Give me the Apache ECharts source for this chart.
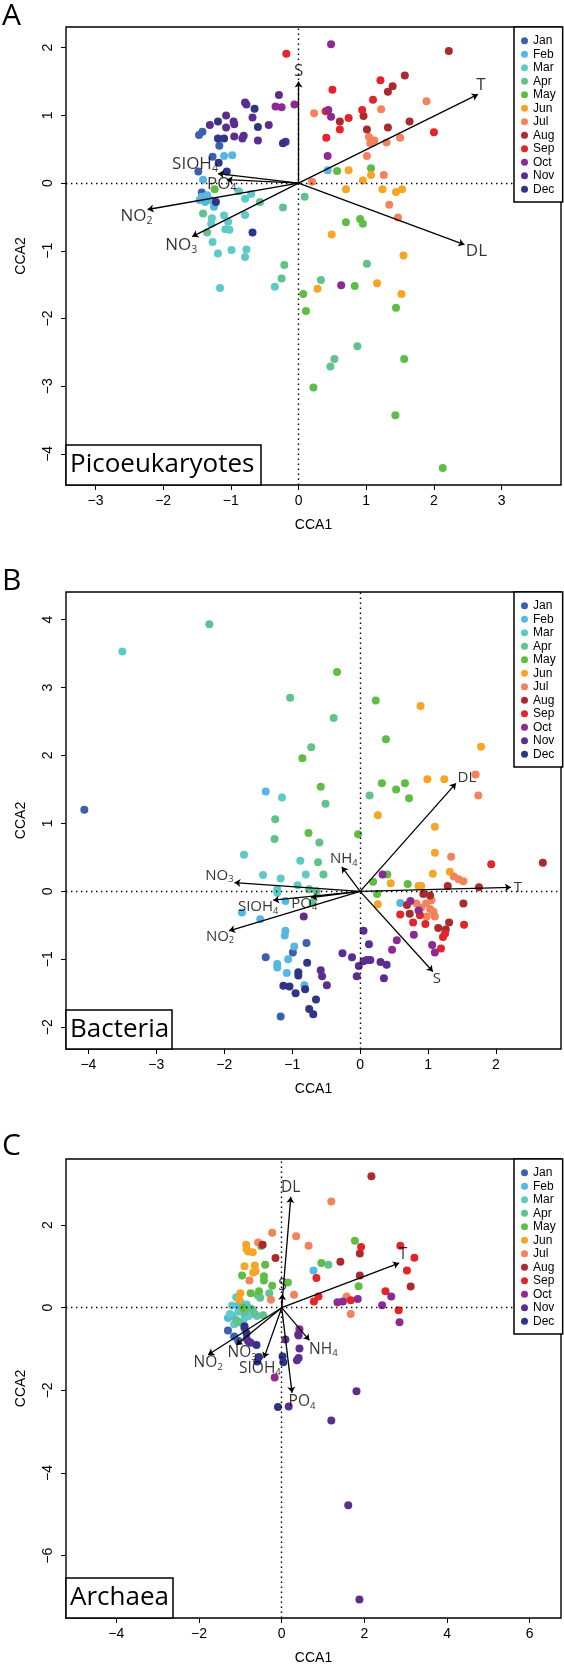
<!DOCTYPE html>
<html><head><meta charset="utf-8">
<script src="https://cdn.jsdelivr.net/npm/echarts@6/dist/echarts.min.js"></script>
<style>html,body{margin:0;padding:0;background:#fff}#c{width:564px;height:1667px}</style>
</head><body><div id="c"></div>
<script>
const months = ['Jan','Feb','Mar','Apr','May','Jun','Jul','Aug','Sep','Oct','Nov','Dec'];
const monthColors = ['#3c5fae','#57b6e3','#5dcac6','#62c28e','#5fbd45','#f6a626','#f3835c','#ab2a2e','#e2252b','#8c2a93','#5b2e8e','#2e3586'];

// Panel A – Picoeukaryotes: [CCA1, CCA2, month]
const picoPoints = [
 [-1.42,0.76,'Jan'],[-1.47,0.71,'Jan'],[-1.27,0.39,'Jan'],[-1.48,0.17,'Jan'],[-1.43,-0.14,'Jan'],[-1.17,0.55,'Jan'],
 [-1.10,0.40,'Feb'],[-0.98,0.41,'Feb'],[-1.41,0.05,'Feb'],[-1.43,-0.20,'Feb'],[-1.35,-0.18,'Feb'],[-1.30,-0.25,'Feb'],[-1.46,-0.25,'Feb'],[-1.25,-0.35,'Feb'],[-1.38,-0.28,'Feb'],[0.43,0.19,'Feb'],
 [-0.88,-0.12,'Mar'],[-0.79,-0.23,'Mar'],[-0.70,-0.16,'Mar'],[-1.28,-0.52,'Mar'],[-1.29,-0.60,'Mar'],[-1.10,-0.48,'Mar'],[-1.04,-0.57,'Mar'],[-0.79,-0.47,'Mar'],[-1.08,-0.68,'Mar'],[-1.02,-0.69,'Mar'],[-1.27,-0.87,'Mar'],[-1.19,-1.04,'Mar'],[-0.99,-0.99,'Mar'],[-0.77,-0.98,'Mar'],[-0.79,-1.09,'Mar'],[-1.16,-1.55,'Mar'],[-0.35,-1.53,'Mar'],
 [-1.41,-0.45,'Apr'],[-1.35,-0.73,'Apr'],[-0.57,-0.28,'Apr'],[-0.23,-0.36,'Apr'],[0.09,-0.20,'Apr'],[-0.21,-1.21,'Apr'],[-0.25,-1.41,'Apr'],[0.33,-1.43,'Apr'],[0.87,-2.41,'Apr'],[0.53,-2.60,'Apr'],[0.47,-2.71,'Apr'],[1.01,-1.19,'Apr'],
 [-1.24,-0.09,'May'],[0.57,0.18,'May'],[1.07,0.22,'May'],[0.70,-0.58,'May'],[0.91,-0.53,'May'],[0.95,-0.60,'May'],[0.83,-1.52,'May'],[0.07,-1.64,'May'],[0.11,-1.89,'May'],[1.44,-1.84,'May'],[1.56,-2.60,'May'],[0.22,-3.02,'May'],[1.43,-3.43,'May'],[2.13,-4.21,'May'],
 [0.74,0.19,'Jun'],[1.07,0.12,'Jun'],[0.95,0.04,'Jun'],[0.70,-0.09,'Jun'],[1.24,-0.09,'Jun'],[1.44,-0.13,'Jun'],[1.53,-0.09,'Jun'],[0.49,-0.76,'Jun'],[1.55,-1.07,'Jun'],[0.28,-1.56,'Jun'],[1.16,-1.48,'Jun'],[1.52,-1.64,'Jun'],
 [1.89,1.21,'Jul'],[1.22,1.09,'Jul'],[0.23,1.03,'Jul'],[1.04,0.68,'Jul'],[1.12,0.63,'Jul'],[1.06,0.59,'Jul'],[1.30,0.60,'Jul'],[1.50,0.67,'Jul'],[1.01,0.40,'Jul'],[1.26,0.12,'Jul'],[0.20,0.02,'Jul'],[1.34,-0.32,'Jul'],[1.47,-0.51,'Jul'],
 [2.22,1.95,'Aug'],[1.57,1.59,'Aug'],[1.39,1.43,'Aug'],[1.32,1.35,'Aug'],[0.61,0.91,'Aug'],[0.96,0.99,'Aug'],[1.32,0.82,'Aug'],[1.64,0.91,'Aug'],[1.01,0.79,'Aug'],
 [-0.18,1.91,'Sep'],[1.21,1.52,'Sep'],[0.50,1.38,'Sep'],[1.10,1.23,'Sep'],[0.40,1.06,'Sep'],[0.94,1.08,'Sep'],[0.74,0.96,'Sep'],[0.61,0.79,'Sep'],[2.00,0.75,'Sep'],[0.41,0.67,'Sep'],
 [0.48,2.05,'Oct'],[0.44,1.08,'Oct'],[0.48,0.98,'Oct'],[0.43,0.40,'Oct'],[0.63,-1.51,'Oct'],[-0.34,1.13,'Oct'],[-0.25,1.12,'Oct'],[-0.06,1.16,'Oct'],
 [-0.29,1.30,'Nov'],[-0.79,1.19,'Nov'],[-0.77,1.16,'Nov'],[-0.68,0.97,'Nov'],[-1.07,1.00,'Nov'],[-0.96,0.91,'Nov'],[-0.95,0.87,'Nov'],[-1.31,0.86,'Nov'],[-1.07,0.82,'Nov'],[-0.44,0.86,'Nov'],[-0.95,0.69,'Nov'],[-0.81,0.70,'Nov'],[-0.83,0.66,'Nov'],[-0.60,0.63,'Nov'],[-0.19,0.61,'Nov'],
 [-1.19,0.91,'Dec'],[-0.65,1.10,'Dec'],[-0.60,0.83,'Dec'],[-1.19,0.66,'Dec'],[-1.10,0.66,'Dec'],[-0.23,0.59,'Dec'],[-1.18,0.30,'Dec'],[-1.06,0.17,'Dec'],[-1.22,-0.28,'Dec'],[-0.68,-0.73,'Dec']
];
const picoArrows = [['S',0,1.50],['T',2.65,1.31],['DL',2.45,-0.91],['SIOH4',-1.19,0.14],['PO4',-1.06,0.05],['NO2',-2.23,-0.39],['NO3',-1.57,-0.79]];
const picoXTicks = [-3,-2,-1,0,1,2,3];
const picoYTicks = [-4,-3,-2,-1,0,1,2];

// Panel B – Bacteria
const bactPoints = [
 [-4.06,1.20,'Jan'],[-0.79,-0.76,'Jan'],[-1.39,-0.97,'Jan'],[-1.17,-1.84,'Jan'],[-0.99,-0.90,'Jan'],
 [-1.39,1.47,'Feb'],[-1.10,-0.14,'Feb'],[-1.74,-0.31,'Feb'],[-1.47,-0.41,'Feb'],[0.59,-0.17,'Feb'],[-1.10,-0.58,'Feb'],[-1.11,-0.65,'Feb'],[-0.97,-0.81,'Feb'],[-1.06,-1.00,'Feb'],[-1.22,-1.07,'Feb'],[-1.22,-1.12,'Feb'],[-1.08,-1.20,'Feb'],[-0.82,-1.38,'Feb'],
 [-3.50,3.53,'Mar'],[-1.15,1.38,'Mar'],[-1.71,0.54,'Mar'],[-1.43,0.24,'Mar'],[-1.17,0.19,'Mar'],[-0.88,0.45,'Mar'],[-0.80,0.25,'Mar'],[-0.92,0.09,'Mar'],[-1.22,0.03,'Mar'],[-1.22,-0.02,'Mar'],
 [-2.22,3.93,'Apr'],[-1.03,2.85,'Apr'],[-0.39,2.55,'Apr'],[-0.72,2.12,'Apr'],[0.14,1.41,'Apr'],[-0.51,1.29,'Apr'],[-1.25,1.06,'Apr'],[-1.26,0.77,'Apr'],[-0.60,0.72,'Apr'],[-0.62,0.43,'Apr'],[-0.54,0.25,'Apr'],[-0.75,0.03,'Apr'],[-0.64,0.00,'Apr'],[-0.70,-0.16,'Apr'],
 [-0.34,3.23,'May'],[0.23,2.81,'May'],[0.38,2.24,'May'],[-0.85,1.96,'May'],[0.32,1.59,'May'],[0.66,1.59,'May'],[0.53,1.50,'May'],[0.72,1.37,'May'],[-0.58,1.54,'May'],[-0.76,0.86,'May'],[-0.03,0.84,'May'],[0.40,0.25,'May'],[0.19,0.14,'May'],[0.70,0.11,'May'],[0.25,-0.04,'May'],
 [0.89,2.73,'Jun'],[1.78,2.13,'Jun'],[0.99,1.65,'Jun'],[1.24,1.65,'Jun'],[0.26,1.12,'Jun'],[1.10,0.95,'Jun'],[1.10,0.57,'Jun'],[1.07,0.26,'Jun'],[1.32,0.29,'Jun'],[0.45,0.12,'Jun'],[0.86,0.08,'Jun'],[0.90,0.08,'Jun'],[0.26,-0.19,'Jun'],
 [1.70,1.72,'Jul'],[1.74,1.41,'Jul'],[1.34,0.51,'Jul'],[1.38,0.22,'Jul'],[1.45,0.18,'Jul'],[1.52,0.15,'Jul'],[0.83,-0.18,'Jul'],[0.97,-0.18,'Jul'],[1.05,-0.13,'Jul'],[1.03,-0.26,'Jul'],[1.10,-0.37,'Jul'],[0.98,-0.37,'Jul'],[1.08,-0.30,'Jul'],[0.90,-0.24,'Jul'],
 [2.69,0.42,'Aug'],[1.29,0.08,'Aug'],[1.75,0.06,'Aug'],[0.93,-0.04,'Aug'],[1.03,-0.06,'Aug'],[0.69,-0.20,'Aug'],[0.73,-0.33,'Aug'],[1.52,-0.18,'Aug'],[1.31,-0.46,'Aug'],[1.26,-0.56,'Aug'],[1.15,-0.54,'Aug'],
 [1.93,0.40,'Sep'],[0.59,-0.34,'Sep'],[0.78,-0.46,'Sep'],[0.96,-0.48,'Sep'],[1.53,-0.49,'Sep'],[1.22,-0.67,'Sep'],[1.19,-0.84,'Sep'],[1.25,-0.62,'Sep'],[0.88,-0.35,'Sep'],
 [0.33,0.25,'Oct'],[0.74,-0.14,'Oct'],[0.86,-0.28,'Oct'],[0.79,-0.64,'Oct'],[1.06,-0.79,'Oct'],[1.10,-0.90,'Oct'],[0.54,-0.72,'Oct'],[0.47,-0.86,'Oct'],
 [-0.83,-0.37,'Nov'],[0.05,-0.58,'Nov'],[0.13,-0.78,'Nov'],[-0.26,-0.91,'Nov'],[-0.12,-0.97,'Nov'],[0.10,-1.01,'Nov'],[0.15,-1.01,'Nov'],[0.05,-1.03,'Nov'],[-0.02,-1.10,'Nov'],[-0.05,-1.25,'Nov'],[0.30,-1.04,'Nov'],[0.39,-1.08,'Nov'],[0.35,-1.28,'Nov'],[-0.58,-1.16,'Nov'],[-0.56,-1.25,'Nov'],[-0.49,-1.38,'Nov'],
 [-0.78,-1.05,'Dec'],[-0.91,-1.19,'Dec'],[-0.91,-1.24,'Dec'],[-1.13,-1.39,'Dec'],[-1.04,-1.40,'Dec'],[-0.95,-1.50,'Dec'],[-0.81,-1.44,'Dec'],[-0.65,-1.59,'Dec'],[-0.75,-1.73,'Dec'],[-0.69,-1.81,'Dec']
];
const bactArrows = [['DL',1.41,1.59],['T',2.22,0.06],['S',1.07,-1.18],['NH4',-0.27,0.36],['NO3',-1.85,0.13],['SIOH4',-1.28,-0.13],['PO4',-0.72,-0.09],['NO2',-1.93,-0.58]];
const bactXTicks = [-4,-3,-2,-1,0,1,2];
const bactYTicks = [-2,-1,0,1,2,3,4];

// Panel C – Archaea
const archPoints = [
 [-1.30,-0.55,'Jan'],[-1.15,-0.70,'Jan'],[-0.90,-0.50,'Jan'],[-0.85,-0.75,'Jan'],[-1.05,-0.80,'Jan'],
 [0.77,0.90,'Feb'],[-1.20,-0.20,'Feb'],[-1.05,0.05,'Feb'],[-0.95,-0.10,'Feb'],[-1.30,-0.25,'Feb'],
 [-1.20,0.05,'Mar'],[-1.05,-0.10,'Mar'],[-0.90,-0.25,'Mar'],[-1.15,-0.40,'Mar'],[-0.95,-0.35,'Mar'],[-0.80,-0.20,'Mar'],[-1.00,0.15,'Mar'],[-0.85,0.08,'Mar'],[-0.70,-0.05,'Mar'],[-1.25,-0.15,'Mar'],[-0.60,-0.20,'Mar'],[-1.10,0.25,'Mar'],
 [1.13,1.04,'Apr'],[-0.58,0.30,'Apr'],[-0.52,0.24,'Apr'],[-0.30,0.35,'Apr'],[-0.75,-0.02,'Apr'],[-1.10,-0.30,'Apr'],[-1.05,-0.35,'Apr'],[-0.65,-0.15,'Apr'],[-0.45,-0.18,'Apr'],[-0.90,-0.10,'Apr'],
 [1.77,1.62,'May'],[0.96,1.08,'May'],[-0.40,1.04,'May'],[-0.43,0.76,'May'],[-0.43,0.66,'May'],[-0.23,0.53,'May'],[-0.96,0.78,'May'],[0.15,0.61,'May'],[1.86,0.52,'May'],[-0.50,1.49,'May'],[-0.75,0.35,'May'],[-0.55,0.40,'May'],[-0.93,0.00,'May'],
 [-0.86,1.52,'Jun'],[-0.85,1.42,'Jun'],[-0.81,1.36,'Jun'],[-0.70,1.34,'Jun'],[-0.90,1.00,'Jun'],[-0.65,1.02,'Jun'],[-0.63,0.88,'Jun'],[-1.00,0.35,'Jun'],[-1.03,0.19,'Jun'],[-0.69,0.85,'Jun'],
 [1.20,2.57,'Jul'],[-0.23,1.81,'Jul'],[0.35,1.73,'Jul'],[0.65,1.50,'Jul'],[-0.57,1.58,'Jul'],[-0.78,0.66,'Jul'],[0.30,0.31,'Jul'],[-0.26,0.19,'Jul'],[1.57,0.27,'Jul'],[1.67,-0.15,'Jul'],
 [2.17,3.18,'Aug'],[-0.46,1.52,'Aug'],[-0.15,1.20,'Aug'],[1.89,1.31,'Aug'],[1.42,1.11,'Aug'],[1.89,0.78,'Aug'],[3.12,0.51,'Aug'],
 [1.92,1.47,'Sep'],[2.87,1.50,'Sep'],[3.21,1.21,'Sep'],[3.03,0.90,'Sep'],[0.84,0.72,'Sep'],[2.51,0.40,'Sep'],[0.89,0.27,'Sep'],[0.78,0.15,'Sep'],[1.67,0.18,'Sep'],[2.83,-0.06,'Sep'],
 [2.65,0.27,'Oct'],[1.35,0.13,'Oct'],[1.48,0.15,'Oct'],[1.84,0.21,'Oct'],[2.43,0.06,'Oct'],[2.85,-0.35,'Oct'],[0.43,-0.52,'Oct'],[0.41,-0.67,'Oct'],[-0.17,-1.69,'Oct'],
 [0.09,-0.77,'Nov'],[0.43,-0.99,'Nov'],[0.41,-1.22,'Nov'],[0.37,-1.27,'Nov'],[-0.81,-0.81,'Nov'],[1.81,-2.02,'Nov'],[0.17,-2.39,'Nov'],[1.20,-2.73,'Nov'],[1.61,-4.78,'Nov'],[1.88,-7.06,'Nov'],[-0.75,-0.85,'Nov'],[0.40,-0.65,'Nov'],
 [0.02,-1.18,'Dec'],[0.04,-1.32,'Dec'],[-0.55,-1.19,'Dec'],[-0.59,-1.30,'Dec'],[-0.61,-0.90,'Dec'],[-0.09,-2.40,'Dec'],[-0.90,-0.45,'Dec'],[-0.85,-0.62,'Dec']
];
const archArrows = [['DL',0.22,2.68],['T',2.84,1.08],['S',0.02,0.33],['NH4',0.67,-0.79],['PO4',0.25,-2.06],['SIOH4',-0.43,-1.22],['NO3',-1.10,-0.90],['NO2',-1.78,-1.14]];
const archXTicks = [-4,-2,0,2,4,6];
const archYTicks = [-6,-4,-2,0,2];

// ---- layout (positions / styles only) ----
const panels = [
 {title:'Picoeukaryotes', letter:'A', points:picoPoints, arrows:picoArrows, xt:picoXTicks, yt:picoYTicks,
  grid:{left:66, top:27, width:495, height:458}, x:[-3.435,3.877], y:[-4.46,2.306], lab:17,
  off:[[0,-10],[3,-9],[12,6],[-23,-9],[-5,4],[-11,7],[-11,9]], box:[66,445,195,40], letterY:16},
 {title:'Bacteria', letter:'B', points:bactPoints, arrows:bactArrows, xt:bactXTicks, yt:bactYTicks,
  grid:{left:66, top:592, width:495, height:457}, x:[-4.33,2.957], y:[-2.32,4.406], lab:15,
  off:[[11,-6],[7,0],[4,7],[2,-8],[-15,-7],[-15,7],[-7,6],[-9,6]], box:[66,1010,106,39], letterY:581},
 {title:'Archaea', letter:'C', points:archPoints, arrows:archArrows, xt:archXTicks, yt:archYTicks,
  grid:{left:66, top:1159, width:495, height:459}, x:[-5.218,6.757], y:[-7.507,3.597], lab:15.5,
  off:[[0,-9],[4,-8],[0,-8],[14,9],[10,9],[-4,10],[6,8],[0,8]], box:[66,1578,107,40], letterY:1146}
];

const minus = v => String(v).replace('-', '\u2212');
const axisFont = '"Liberation Sans", Arial, sans-serif';
const option = {animation:false, backgroundColor:'#fff', grid:[], xAxis:[], yAxis:[], series:[], legend:[], graphic:[]};

panels.forEach((p, i) => {
  option.grid.push(Object.assign({show:true, borderColor:'#000', borderWidth:1.4, backgroundColor:'transparent'}, p.grid));
  const common = (ticks) => ({
    type:'value', gridIndex:i, splitLine:{show:false},
    axisLine:{show:false, onZero:false},
    axisTick:{show:true, length:5, inside:false, lineStyle:{color:'#000', width:1}, customValues:ticks},
    axisLabel:{customValues:ticks, color:'#000', fontSize:14, fontFamily:axisFont, formatter:minus},
    nameLocation:'middle', nameTextStyle:{color:'#000', fontSize:14, fontFamily:axisFont}
  });
  const xa = common(p.xt); xa.min = p.x[0]; xa.max = p.x[1]; xa.name = 'CCA1'; xa.nameGap = 33; xa.axisLabel.margin = 9;
  const ya = common(p.yt); ya.min = p.y[0]; ya.max = p.y[1]; ya.name = 'CCA2'; ya.nameGap = 38; ya.axisLabel.margin = 11; ya.axisLabel.rotate = 90;
  option.xAxis.push(xa); option.yAxis.push(ya);

  months.forEach((m, k) => {
    const s = {type:'scatter', name:m, xAxisIndex:i, yAxisIndex:i, symbolSize:8, silent:true, z:2,
      itemStyle:{color:monthColors[k], opacity:1},
      data:p.points.filter(d => d[2] === m).map(d => [d[0], d[1]])};
    if (k === 0) s.markLine = {silent:true, symbol:['none','none'], label:{show:false}, animation:false,
      lineStyle:{color:'#000', type:[1.4,3.6], width:1.4}, data:[{xAxis:0},{yAxis:0}]};
    option.series.push(s);
  });

  option.series.push({type:'lines', name:'arrows'+i, coordinateSystem:'cartesian2d', xAxisIndex:i, yAxisIndex:i, silent:true, z:4,
    symbol:['none','arrow'], symbolSize:6, lineStyle:{color:'#000', width:1.3, opacity:1, curveness:0},
    data:p.arrows.map(a => ({coords:[[0,0],[a[1],a[2]]]}))});

  option.series.push({type:'scatter', name:'labels'+i, xAxisIndex:i, yAxisIndex:i, symbolSize:1, silent:true, z:5,
    itemStyle:{color:'rgba(0,0,0,0)'},
    label:{show:true, position:'inside', color:'#000', fontFamily:'"Open Sans", sans-serif', fontSize:p.lab,
      formatter:q => q.name.replace(/(\d)$/, '{s|$1}'),
      rich:{s:{fontSize:p.lab*0.62, fontFamily:'"Open Sans", sans-serif', color:'#000', padding:[Math.round(p.lab*0.5),0,0,0]}}},
    data:p.arrows.map((a, k) => ({name:a[0], value:[a[1], a[2]], label:{offset:p.off[k]}}))});

  option.legend.push({orient:'vertical', left:514, top:p.grid.top, data:months, icon:'circle', itemWidth:7, itemHeight:7, itemGap:0,
    padding:[7,7,6,7], borderColor:'#000', borderWidth:1.5, backgroundColor:'#fff', selectedMode:false, z:20,
    textStyle:{fontSize:12, fontFamily:axisFont, color:'#000', lineHeight:13.5}});

  option.graphic.push({type:'text', x:2, y:p.letterY, z:50,
    style:{text:p.letter, font:'30px "Open Sans"', fill:'#000', verticalAlign:'middle'}});
  option.graphic.push({type:'rect', z:50, shape:{x:p.box[0], y:p.box[1], width:p.box[2], height:p.box[3]},
    style:{fill:'#fff', stroke:'#000', lineWidth:1.5}});
  option.graphic.push({type:'text', z:51, x:p.box[0]+4, y:p.box[1]+p.box[3]/2,
    style:{text:p.title, font:'26px "Open Sans"', fill:'#000', verticalAlign:'middle'}});
});

const chart = echarts.init(document.getElementById('c'), null, {renderer:'canvas'});
chart.setOption(option);
</script>
</body></html>
